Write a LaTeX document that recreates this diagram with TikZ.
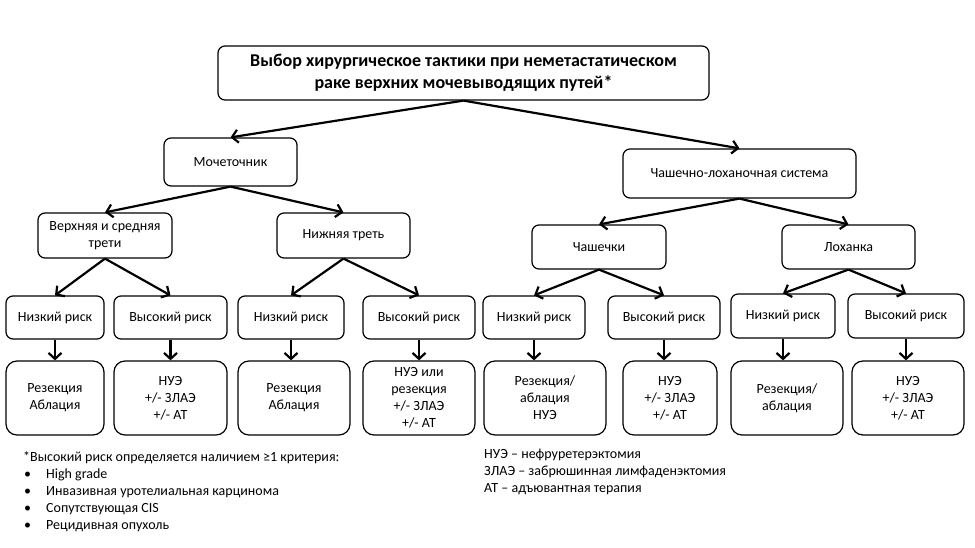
\documentclass[tikz,border=0pt]{standalone}
\usepackage{fontspec}
\setmainfont{Carlito}
\usetikzlibrary{arrows.meta}
\begin{document}
\begin{tikzpicture}[x=1pt,y=-1pt,
  box/.style={draw, line width=1.2pt, rounded corners=7pt, inner sep=0pt, align=center,
    font=\fontsize{14}{17}\selectfont},
  obox/.style={box, rounded corners=11pt},
  titlebox/.style={box, font=\fontsize{18}{22}\selectfont\bfseries},
  arr/.style={line width=2.2pt, -{Straight Barb[length=6pt,width=13pt,line width=2.2pt]}},
  note/.style={anchor=base west, inner sep=0pt, font=\fontsize{14}{17}\selectfont}]
\useasboundingbox (0,0) rectangle (975,548);
% title
\node[titlebox, minimum width=491pt, minimum height=54pt] (t) at (463.5,73)
  {Выбор хирургическое тактики при неметастатическом\\раке верхних мочевыводящих путей*};
% level 1
\node[box, minimum width=133pt, minimum height=48pt] (m) at (230.5,162) {Мочеточник};
\node[box, minimum width=233pt, minimum height=49pt] (c) at (739.5,173.5) {Чашечно-лоханочная система};
% level 2
\node[box, minimum width=134pt, minimum height=45pt] (u) at (105,235.5) {Верхняя и средняя\\трети};
\node[box, minimum width=133pt, minimum height=45pt] (l) at (343.5,235.5) {Нижняя треть};
\node[box, minimum width=134pt, minimum height=44pt] (k) at (599,247) {Чашечки};
\node[box, minimum width=133pt, minimum height=44pt] (p) at (848.5,247) {Лоханка};
% risk row
\node[box, minimum width=98pt, minimum height=43pt] (r1) at (55,317.5) {Низкий риск};
\node[box, minimum width=113pt, minimum height=43pt] (r2) at (170.5,317.5) {Высокий риск};
\node[box, minimum width=106pt, minimum height=43pt] (r3) at (291,317.5) {Низкий риск};
\node[box, minimum width=112pt, minimum height=43pt] (r4) at (419,317.5) {Высокий риск};
\node[box, minimum width=102pt, minimum height=43pt] (r5) at (534,317.5) {Низкий риск};
\node[box, minimum width=112pt, minimum height=43pt] (r6) at (664,317.5) {Высокий риск};
\node[box, minimum width=104pt, minimum height=44pt] (r7) at (783,316) {Низкий риск};
\node[box, minimum width=116pt, minimum height=44pt] (r8) at (906,316) {Высокий риск};
% outcome row
\node[obox, minimum width=98pt, minimum height=74pt] (o1) at (55,398) {Резекция\\Аблация};
\node[obox, minimum width=113pt, minimum height=74pt] (o2) at (170.5,398) {НУЭ\\+/- ЗЛАЭ\\+/- АТ};
\node[obox, minimum width=112pt, minimum height=74pt] (o3) at (294,398) {Резекция\\Аблация};
\node[obox, minimum width=112pt, minimum height=74pt] (o4) at (419,398) {НУЭ или\\резекция\\+/- ЗЛАЭ\\+/- АТ};
\node[obox, minimum width=122pt, minimum height=74pt] (o5) at (545,398) {Резекция/\\аблация\\НУЭ};
\node[obox, minimum width=94pt, minimum height=74pt] (o6) at (670,398) {НУЭ\\+/- ЗЛАЭ\\+/- АТ};
\node[obox, minimum width=112pt, minimum height=74pt] (o7) at (787,398) {Резекция/\\аблация};
\node[obox, minimum width=112pt, minimum height=74pt] (o8) at (908,398) {НУЭ\\+/- ЗЛАЭ\\+/- АТ};
% arrows
\draw[arr] (t.south) -- (m.north);
\draw[arr] (t.south) -- (c.north);
\draw[arr] (m.south) -- (u.north);
\draw[arr] (m.south) -- (l.north);
\draw[arr] (c.south) -- (k.north);
\draw[arr] (c.south) -- (p.north);
\draw[arr] (u.south) -- (r1.north);
\draw[arr] (u.south) -- (r2.north);
\draw[arr] (l.south) -- (r3.north);
\draw[arr] (l.south) -- (r4.north);
\draw[arr] (k.south) -- (r5.north);
\draw[arr] (k.south) -- (r6.north);
\draw[arr] (p.south) -- (r7.north);
\draw[arr] (p.south) -- (r8.north);
\foreach \i in {1,...,8} {
  \draw[arr] (r\i.south) -- (r\i.south |- o\i.north);
}
% footnote
\node[note] (f0) at (23,461) {*Высокий риск определяется наличием ≥1 критерия:};
\node[note] (b1) at (24,478) {•};
\node[note] (f1) at (46,478) {High grade};
\node[note] (b2) at (24,495) {•};
\node[note] (f2) at (46,495) {Инвазивная уротелиальная карцинома};
\node[note] (b3) at (24,512) {•};
\node[note] (f3) at (46,512) {Сопутствующая CIS};
\node[note] (b4) at (24,529) {•};
\node[note] (f4) at (46,529) {Рецидивная опухоль};
% legend
\node[note] (g1) at (484,458) {НУЭ – нефруретерэктомия};
\node[note] (g2) at (484,475) {ЗЛАЭ – забрюшинная лимфаденэктомия};
\node[note] (g3) at (484,492) {АТ – адъювантная терапия};
\end{tikzpicture}
\end{document}
